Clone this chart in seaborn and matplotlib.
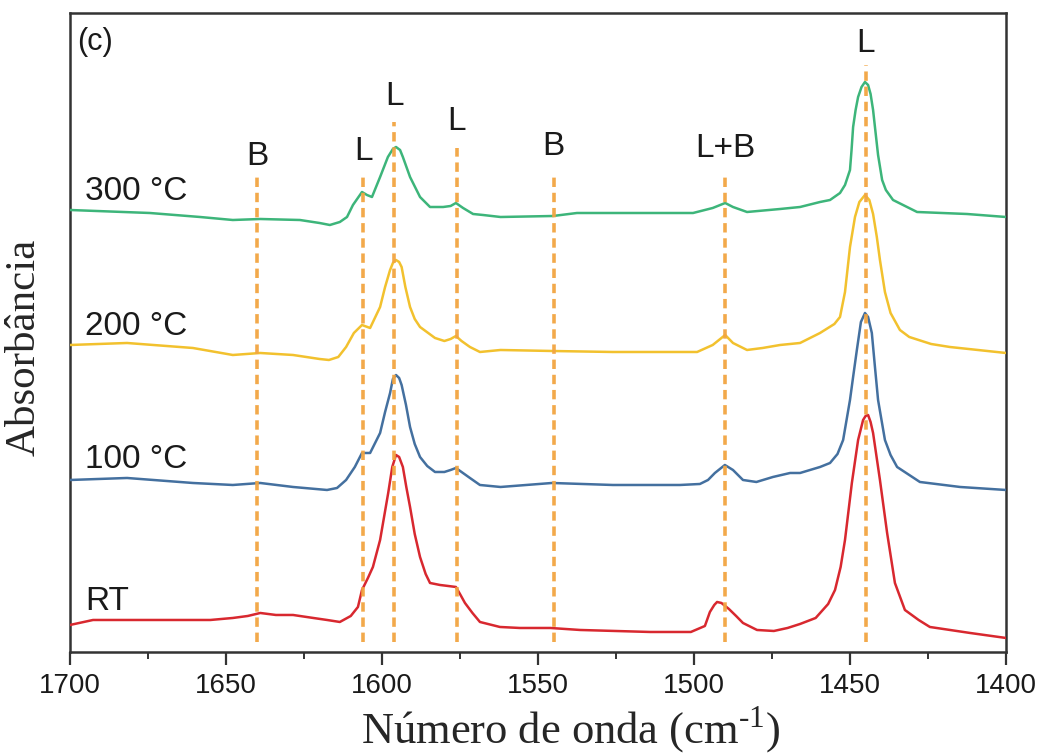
import numpy as np
import pandas as pd
import matplotlib
matplotlib.use("Agg")
import matplotlib.pyplot as plt
import seaborn as sns
from matplotlib.ticker import MultipleLocator

# Spectra (wavenumber in cm-1, absorbance in a.u. incl. offset)
wn_rt = [1700, 1692.6, 1671, 1655, 1647.8, 1643, 1639, 1634, 1628.5, 1622, 1617.6, 1613.5,
         1610, 1607.7, 1606.4, 1604.5, 1602.9, 1600.6, 1598, 1596.7, 1595.5, 1594.5, 1593.3,
         1592.2, 1591, 1589.5, 1587.8, 1586, 1584.6, 1581.4, 1578.8, 1576.3, 1575, 1573.4,
         1571, 1568.6, 1562.2, 1555.8, 1546, 1536.5, 1514, 1501, 1496.5, 1494.9, 1493.5,
         1492.6, 1491.2, 1488.8, 1486.5, 1484.3, 1479.8, 1474.4, 1470, 1466, 1461, 1457,
         1454.8, 1453, 1451.6, 1449.4, 1447.4, 1445.8, 1445, 1444.2, 1443.4, 1442.6, 1440.4,
         1438.1, 1435.6, 1432.4, 1428, 1424.4, 1411.5, 1400]
ab_rt = [0.27, 0.32, 0.32, 0.32, 0.34, 0.36, 0.39, 0.37, 0.37, 0.34, 0.32, 0.30,
         0.36, 0.45, 0.62, 0.74, 0.85, 1.12, 1.59, 1.85, 1.97, 1.95, 1.85,
         1.65, 1.45, 1.18, 0.95, 0.78, 0.69, 0.67, 0.66, 0.65, 0.58, 0.49,
         0.39, 0.30, 0.25, 0.24, 0.24, 0.22, 0.20, 0.20, 0.26, 0.40, 0.47,
         0.50, 0.49, 0.43, 0.36, 0.29, 0.22, 0.21, 0.24, 0.28, 0.34, 0.48,
         0.62, 0.85, 1.12, 1.69, 2.12, 2.32, 2.36, 2.37, 2.30, 2.19, 1.72,
         1.19, 0.69, 0.42, 0.32, 0.25, 0.19, 0.14]

wn_100 = [1700, 1681.7, 1660.6, 1647.8, 1639, 1628.5, 1617.6, 1614.4, 1611.5, 1608.7, 1606.4,
          1603.8, 1600.6, 1599, 1597.4, 1596.5, 1595.5, 1594.5, 1593.7, 1592.3, 1591, 1589.5,
          1587.8, 1585.5, 1583, 1580, 1578, 1576.3, 1574.5, 1571.8, 1568.6, 1562, 1545.5,
          1526, 1504.5, 1498.1, 1495.5, 1493.3, 1490.1, 1487.5, 1484.3, 1480, 1474.7, 1469.2,
          1466, 1459.6, 1456.4, 1454, 1452.2, 1450, 1449, 1447.8, 1446.5, 1445.2, 1444.2,
          1443, 1442, 1441, 1438.8, 1437, 1434.9, 1427.6, 1414.7, 1400]
ab_100 = [1.72, 1.74, 1.69, 1.67, 1.69, 1.65, 1.62, 1.64, 1.72, 1.85, 1.99,
          1.99, 2.19, 2.40, 2.59, 2.73, 2.77, 2.74, 2.67, 2.47, 2.25, 2.08,
          1.95, 1.86, 1.80, 1.80, 1.82, 1.84, 1.80, 1.74, 1.67, 1.65, 1.69,
          1.67, 1.67, 1.68, 1.72, 1.79, 1.87, 1.82, 1.72, 1.70, 1.75, 1.79,
          1.79, 1.85, 1.89, 1.98, 2.12, 2.52, 2.75, 3.02, 3.30, 3.39, 3.35,
          3.19, 2.85, 2.52, 2.12, 1.97, 1.85, 1.70, 1.65, 1.62]

wn_200 = [1700, 1681.7, 1660.6, 1647.8, 1639, 1628.5, 1620, 1617, 1614, 1611.5, 1609, 1606.4,
          1603.8, 1600.6, 1599, 1597.4, 1596.5, 1595.5, 1594.5, 1593.7, 1592.5, 1591, 1589.5,
          1587.8, 1583, 1580, 1578, 1576.3, 1574.5, 1571.8, 1568.6, 1562, 1545.5, 1526,
          1504.5, 1499, 1494, 1490, 1487.5, 1483, 1478, 1472.4, 1466, 1459.6, 1455, 1453.2,
          1451.6, 1450, 1448.4, 1447, 1445.2, 1443.8, 1442.6, 1441.4, 1440.4, 1438.8, 1437,
          1434, 1431, 1424, 1418, 1400]
ab_200 = [3.07, 3.09, 3.04, 2.97, 2.99, 2.97, 2.93, 2.92, 2.95, 3.05, 3.19, 3.27,
          3.24, 3.45, 3.65, 3.82, 3.89, 3.92, 3.90, 3.85, 3.65, 3.45, 3.33,
          3.25, 3.14, 3.11, 3.13, 3.16, 3.11, 3.05, 3.00, 3.02, 3.01, 3.00,
          3.00, 3.00, 3.07, 3.17, 3.09, 3.02, 3.04, 3.07, 3.09, 3.19, 3.28, 3.35,
          3.60, 4.05, 4.35, 4.50, 4.57, 4.52, 4.38, 4.15, 3.92, 3.60, 3.39,
          3.22, 3.15, 3.08, 3.05, 2.99]

wn_300 = [1700, 1674.4, 1658.3, 1647.8, 1639, 1626.3, 1620, 1616.7, 1613.5, 1611.2, 1609.3,
          1606.4, 1604.8, 1603.2, 1600.6, 1598.1, 1596.5, 1595.5, 1594.2, 1593.3, 1591, 1587.8,
          1584.6, 1580.4, 1578, 1576.3, 1574, 1570.8, 1567.6, 1562, 1545.2, 1537.5, 1519.6,
          1500.3, 1494, 1490, 1487.5, 1483, 1472.4, 1466, 1459.6, 1456.4, 1453.2, 1451.6, 1450,
          1449.5, 1449, 1448.2, 1447.4, 1446.3, 1445.2, 1444.2, 1443.4, 1442.6, 1442, 1441,
          1439.7, 1438.5, 1436.2, 1428.5, 1412.5, 1400]
ab_300 = [4.42, 4.39, 4.35, 4.32, 4.33, 4.32, 4.29, 4.27, 4.30, 4.35, 4.47,
          4.60, 4.57, 4.55, 4.75, 4.95, 5.03, 5.05, 5.02, 4.95, 4.75, 4.55,
          4.45, 4.45, 4.46, 4.49, 4.44, 4.38, 4.37, 4.35, 4.36, 4.39, 4.39,
          4.39, 4.44, 4.49, 4.45, 4.40, 4.43, 4.45, 4.50, 4.52, 4.59, 4.67, 4.82,
          5.02, 5.25, 5.42, 5.55, 5.65, 5.70, 5.67, 5.58, 5.42, 5.25, 4.97,
          4.72, 4.62, 4.52, 4.40, 4.38, 4.35]

series_names = ["RT", "100 °C", "200 °C", "300 °C"]
series_colors = ["#d8282f", "#44709f", "#f2c12e", "#3db57a"]
label_y = [0.42, 1.84, 3.17, 4.52]

# assigned bands: position, label, top of the dashed marker, label baseline
band_pos = [1640, 1606, 1596, 1576, 1545, 1490, 1445]
band_lbl = ["B", "L", "L", "L", "B", "L+B", "L"]
band_top = [4.75, 4.79, 5.30, 5.04, 4.79, 4.79, 5.87]
band_lbl_y = [4.87, 4.92, 5.47, 5.22, 4.97, 4.95, 6.00]

frames = []
for name, wn, ab in zip(series_names, [wn_rt, wn_100, wn_200, wn_300],
                        [ab_rt, ab_100, ab_200, ab_300]):
    frames.append(pd.DataFrame({"wn": wn, "ab": ab, "amostra": name}))
df = pd.concat(frames, ignore_index=True)

sns.set_style("white")
plt.rcParams["font.family"] = ["Liberation Sans", "DejaVu Sans"]
plt.rcParams["mathtext.fontset"] = "custom"
plt.rcParams["mathtext.rm"] = "Liberation Serif"

fig = plt.figure(figsize=(10.44, 7.56), dpi=100)
ax = fig.add_axes([0.067, 0.1376, 0.8966, 0.8452])

sns.lineplot(data=df, x="wn", y="ab", hue="amostra", palette=series_colors,
             hue_order=series_names, estimator=None, sort=True, linewidth=1.8,
             legend=False, ax=ax, zorder=3, solid_joinstyle="round")

# dashed band markers sit over the spectra
ax.vlines(band_pos, 0.10, band_top, colors="#f2a541", linewidth=2.6,
          linestyles=(0, (2.6, 1.6)), zorder=4, alpha=0.95)
for x, t, y in zip(band_pos, band_lbl, band_lbl_y):
    ax.text(x, y, t, ha="center", va="baseline", fontsize=24, color="#1a1a1a")

for name, y in zip(series_names, label_y):
    ax.text(1695.2, y, name, ha="left", va="baseline", fontsize=24, color="#1a1a1a")
ax.text(0.0075, 0.978, "(c)", transform=ax.transAxes, ha="left", va="top",
        fontsize=22, color="#1a1a1a")

ax.set_xlim(1700, 1400)
ax.set_ylim(0, 6.39)
ax.set_yticks([])
ax.xaxis.set_major_locator(MultipleLocator(50))
ax.xaxis.set_minor_locator(MultipleLocator(25))
ax.tick_params(axis="x", which="major", direction="out", length=9, width=1.6,
               labelsize=20, colors="#333333", labelcolor="#1a1a1a", bottom=True, pad=6)
ax.tick_params(axis="x", which="minor", direction="out", length=5, width=1.4,
               colors="#333333", bottom=True)
for sp in ax.spines.values():
    sp.set_color("#333333")
    sp.set_linewidth(1.8)

ax.set_xlabel(r"Número de onda (cm$^{\text{-1}}$)", family="Liberation Serif",
              fontsize=32)
ax.set_ylabel("Absorbância", family="Liberation Serif", fontsize=31)
ax.xaxis.set_label_coords(0.535, -0.082)
ax.yaxis.set_label_coords(-0.028, 0.477)

fig.savefig("out.png", dpi=100)
